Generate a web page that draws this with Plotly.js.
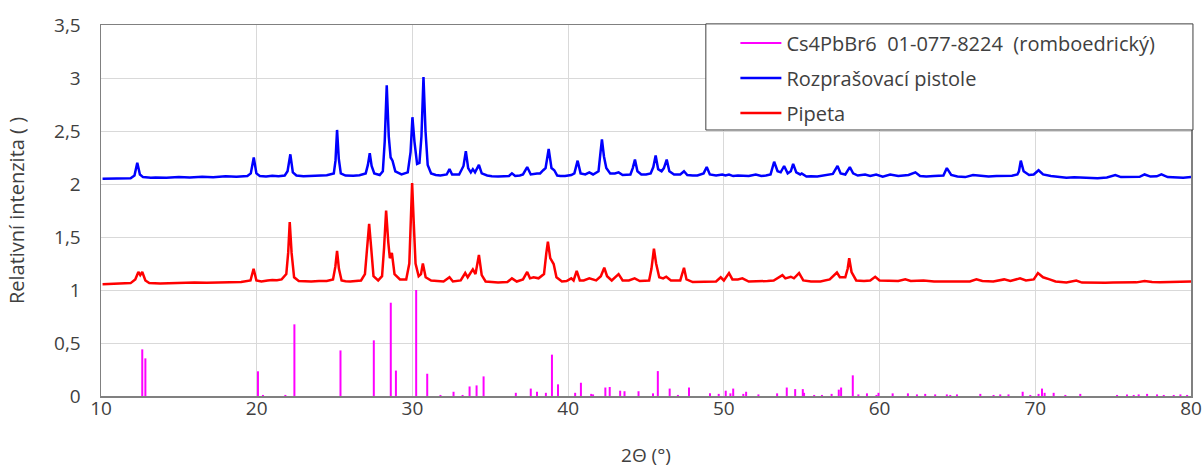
<!DOCTYPE html>
<html>
<head>
<meta charset="utf-8">
<script src="https://cdn.plot.ly/plotly-3.0.1.min.js"></script>
<style>html,body{margin:0;padding:0;background:#fff;}#chart{width:1203px;height:468px;}</style>
</head>
<body>
<div id="chart"></div>
<script>
// ---- data ----
const xTickVals = [10, 20, 30, 40, 50, 60, 70, 80];
const xTickText = ['10', '20', '30', '40', '50', '60', '70', '80'];
const yTickVals = [0, 0.5, 1, 1.5, 2, 2.5, 3, 3.5];
const yTickText = ['0', '0,5', '1', '1,5', '2', '2,5', '3', '3,5'];

const seriesNames = ['Cs4PbBr6\u00a0\u00a001-077-8224\u00a0\u00a0(romboedrický)', 'Rozprašovací pistole', 'Pipeta'];

// reference pattern: stick positions (2θ) and relative intensities
const stickPos = [12.65, 12.85, 20.08, 20.4, 21.84, 22.42, 25.38, 27.52, 28.61, 28.94, 30.24, 30.95, 31.8, 32.64, 33.22, 33.67, 34.12, 34.57,
  36.64, 37.6, 38.0, 38.57, 38.96, 39.35, 40.45, 40.82, 41.48, 41.6, 42.39, 42.67, 43.34, 43.62, 44.52, 45.45, 45.76, 46.52, 47.05, 47.76,
  49.11, 49.67, 50.12, 50.42, 50.6, 51.25, 51.43, 52.22, 53.42, 54.04, 54.58, 55.07, 55.15, 55.8, 56.3, 56.92, 57.38, 57.53, 58.28, 58.64,
  59.19, 59.8, 59.93, 60.84, 61.82, 62.4, 62.93, 63.57, 64.32, 64.54, 64.97, 66.47, 67.32, 67.75, 68.28, 69.19, 69.68, 70.21, 70.43, 70.6,
  71.18, 71.93, 72.89, 75.25, 75.89, 76.32, 76.64, 77.18, 77.82, 78.25, 78.89, 79.32, 79.75];
const stickInt = [0.44, 0.355, 0.233, 0.01, 0.01, 0.676, 0.43, 0.525, 0.88, 0.24, 1.0, 0.21, 0.01, 0.04, 0.01, 0.09, 0.10, 0.185,
  0.03, 0.07, 0.04, 0.03, 0.39, 0.11, 0.03, 0.125, 0.02, 0.015, 0.08, 0.085, 0.05, 0.045, 0.045, 0.025, 0.235, 0.07, 0.01, 0.08,
  0.025, 0.02, 0.05, 0.025, 0.07, 0.02, 0.04, 0.015, 0.025, 0.08, 0.065, 0.065, 0.03, 0.01, 0.01, 0.02, 0.06, 0.08, 0.195, 0.015,
  0.025, 0.01, 0.03, 0.025, 0.025, 0.015, 0.02, 0.015, 0.015, 0.01, 0.015, 0.02, 0.01, 0.015, 0.015, 0.04, 0.01, 0.02, 0.07, 0.03,
  0.03, 0.01, 0.02, 0.01, 0.015, 0.01, 0.015, 0.02, 0.015, 0.01, 0.01, 0.015, 0.01];

// measured pattern "Rozprašovací pistole" (2θ, intensity)
const bluePts = [[10.1,2.05],[10.6,2.052],[11.0,2.048],[11.5,2.055],[11.9,2.055],[12.15,2.08],[12.33,2.20],[12.5,2.09],[12.7,2.065],[13.2,2.058],[13.5,2.062],
  [14.2,2.058],[15.0,2.066],[15.7,2.062],[16.5,2.068],[17.2,2.064],[18.0,2.072],[18.7,2.068],[19.4,2.076],[19.62,2.10],[19.81,2.25],[19.98,2.10],[20.2,2.075],
  [20.6,2.07],[21.0,2.078],[21.4,2.074],[21.8,2.08],[21.98,2.12],[22.16,2.28],[22.32,2.11],[22.55,2.08],[23.0,2.074],[23.5,2.078],[24.0,2.075],[24.5,2.082],
  [24.95,2.10],[25.06,2.22],[25.16,2.51],[25.27,2.24],[25.4,2.10],[25.7,2.08],[26.2,2.078],[26.6,2.083],[27.0,2.10],[27.14,2.18],[27.26,2.29],[27.38,2.17],
  [27.55,2.10],[27.9,2.085],[28.1,2.12],[28.22,2.40],[28.35,2.93],[28.48,2.45],[28.6,2.25],[28.72,2.22],[28.9,2.12],[29.3,2.09],[29.7,2.11],[29.88,2.30],
  [30.0,2.63],[30.13,2.40],[30.3,2.19],[30.45,2.20],[30.58,2.45],[30.71,3.01],[30.84,2.50],[30.98,2.18],[31.2,2.10],[31.5,2.085],[31.8,2.08],[32.2,2.09],
  [32.38,2.14],[32.55,2.09],[33.0,2.09],[33.28,2.17],[33.43,2.31],[33.58,2.15],[33.75,2.11],[33.88,2.14],[34.02,2.11],[34.27,2.18],[34.45,2.10],[34.8,2.08],
  [35.1,2.074],[35.5,2.07],[35.9,2.074],[36.2,2.075],[36.39,2.10],[36.6,2.075],[36.9,2.08],[37.1,2.09],[37.37,2.16],[37.6,2.09],[38.0,2.10],[38.2,2.10],
  [38.4,2.13],[38.55,2.15],[38.75,2.33],[38.93,2.15],[39.11,2.13],[39.3,2.08],[39.5,2.075],[39.8,2.075],[40.2,2.085],[40.4,2.10],[40.61,2.22],[40.8,2.10],
  [41.1,2.09],[41.36,2.11],[41.6,2.09],[41.95,2.12],[42.08,2.30],[42.17,2.42],[42.3,2.26],[42.45,2.15],[42.7,2.10],[43.0,2.10],[43.24,2.11],[43.5,2.085],
  [44.0,2.09],[44.15,2.15],[44.29,2.23],[44.45,2.12],[44.7,2.09],[45.0,2.09],[45.3,2.10],[45.47,2.16],[45.62,2.27],[45.78,2.14],[46.0,2.12],[46.15,2.15],
  [46.33,2.23],[46.5,2.12],[46.8,2.09],[47.2,2.09],[47.44,2.12],[47.65,2.085],[48.0,2.08],[48.3,2.08],[48.7,2.10],[48.9,2.16],[49.1,2.09],[49.5,2.08],
  [49.9,2.09],[50.1,2.08],[50.33,2.09],[50.6,2.075],[50.9,2.08],[51.2,2.08],[51.6,2.075],[52.05,2.09],[52.4,2.075],[52.7,2.08],[53.0,2.09],[53.23,2.21],
  [53.45,2.12],[53.65,2.11],[53.87,2.17],[54.1,2.10],[54.3,2.12],[54.45,2.19],[54.65,2.11],[54.9,2.09],[55.0,2.10],[55.3,2.07],[55.6,2.074],[56.0,2.07],
  [56.5,2.08],[56.76,2.09],[57.0,2.095],[57.3,2.17],[57.5,2.10],[57.8,2.09],[58.09,2.16],[58.3,2.10],[58.6,2.08],[59.07,2.09],[59.4,2.075],[59.78,2.09],
  [60.2,2.07],[60.68,2.09],[61.2,2.075],[61.86,2.085],[62.3,2.11],[62.6,2.075],[63.0,2.07],[63.5,2.075],[64.1,2.08],[64.32,2.15],[64.6,2.085],[65.0,2.07],
  [65.5,2.065],[66.0,2.085],[66.5,2.075],[67.0,2.07],[67.5,2.075],[68.0,2.08],[68.5,2.078],[68.85,2.09],[68.95,2.12],[69.07,2.22],[69.25,2.12],[69.6,2.085],
  [69.9,2.09],[70.21,2.13],[70.5,2.09],[71.0,2.075],[71.5,2.068],[72.0,2.06],[72.5,2.064],[73.0,2.06],[73.5,2.058],[74.0,2.055],[74.6,2.062],[75.14,2.085],
  [75.5,2.065],[75.9,2.068],[76.3,2.07],[76.7,2.068],[77.02,2.09],[77.4,2.07],[77.8,2.072],[78.1,2.09],[78.5,2.065],[79.0,2.062],[79.5,2.06],[80.0,2.065]];

// measured pattern "Pipeta" (2θ, intensity)
const redPts = [[10.1,1.055],[10.6,1.058],[11.0,1.06],[11.5,1.058],[11.9,1.065],[12.2,1.10],[12.4,1.17],[12.52,1.14],[12.65,1.17],[12.85,1.09],[13.1,1.065],
  [13.8,1.062],[14.5,1.066],[15.2,1.064],[16.0,1.07],[16.8,1.068],[17.5,1.072],[18.3,1.07],[19.0,1.075],[19.6,1.09],[19.8,1.20],[19.98,1.09],[20.3,1.08],
  [20.7,1.09],[21.0,1.095],[21.3,1.092],[21.6,1.10],[21.9,1.15],[22.02,1.35],[22.12,1.64],[22.24,1.35],[22.4,1.12],[22.7,1.085],[23.1,1.082],[23.5,1.08],
  [24.0,1.086],[24.5,1.085],[24.9,1.10],[25.05,1.22],[25.16,1.37],[25.28,1.20],[25.45,1.09],[25.7,1.082],[26.0,1.08],[26.4,1.085],[26.7,1.09],[26.95,1.15],
  [27.1,1.40],[27.22,1.625],[27.35,1.40],[27.5,1.13],[27.8,1.09],[28.05,1.13],[28.18,1.40],[28.31,1.75],[28.45,1.45],[28.55,1.30],[28.68,1.35],[28.85,1.15],
  [29.2,1.10],[29.6,1.10],[29.8,1.25],[29.9,1.60],[29.98,2.01],[30.08,1.65],[30.2,1.25],[30.4,1.13],[30.55,1.15],[30.67,1.25],[30.85,1.12],[31.2,1.09],
  [31.6,1.085],[32.0,1.08],[32.38,1.12],[32.6,1.08],[33.1,1.09],[33.39,1.16],[33.55,1.12],[33.88,1.195],[34.05,1.15],[34.27,1.33],[34.45,1.14],[34.7,1.08],
  [35.1,1.075],[35.5,1.07],[35.8,1.074],[36.1,1.075],[36.39,1.11],[36.7,1.08],[37.1,1.10],[37.37,1.17],[37.55,1.11],[37.78,1.12],[38.1,1.11],[38.45,1.15],
  [38.6,1.35],[38.70,1.455],[38.85,1.30],[39.07,1.245],[39.25,1.12],[39.6,1.08],[39.9,1.085],[40.2,1.11],[40.35,1.09],[40.55,1.18],[40.75,1.09],[41.0,1.09],
  [41.36,1.11],[41.8,1.09],[42.1,1.13],[42.32,1.21],[42.5,1.13],[42.8,1.09],[43.24,1.15],[43.5,1.09],[43.9,1.09],[44.27,1.11],[44.6,1.085],[45.2,1.09],
  [45.35,1.20],[45.51,1.39],[45.65,1.25],[45.85,1.12],[46.1,1.11],[46.3,1.125],[46.6,1.09],[47.2,1.09],[47.44,1.21],[47.6,1.10],[48.0,1.075],[48.5,1.075],
  [49.0,1.08],[49.5,1.08],[49.8,1.12],[50.0,1.09],[50.33,1.16],[50.55,1.10],[50.9,1.10],[51.19,1.11],[51.6,1.08],[52.1,1.08],[52.8,1.085],[53.2,1.09],
  [53.45,1.11],[53.76,1.14],[53.95,1.11],[54.3,1.125],[54.5,1.11],[54.83,1.16],[55.1,1.09],[55.6,1.08],[56.2,1.08],[56.8,1.10],[57.26,1.165],[57.45,1.12],
  [57.8,1.12],[57.95,1.20],[58.05,1.30],[58.2,1.17],[58.5,1.09],[59.0,1.085],[59.4,1.09],[59.72,1.125],[60.0,1.09],[60.7,1.09],[61.2,1.085],[61.65,1.10],
  [62.0,1.085],[62.82,1.09],[63.5,1.08],[64.3,1.08],[65.0,1.08],[65.8,1.08],[66.22,1.10],[66.6,1.085],[67.3,1.08],[68.0,1.10],[68.4,1.085],[69.02,1.11],
  [69.4,1.09],[69.9,1.10],[70.17,1.16],[70.5,1.12],[70.92,1.10],[71.3,1.08],[72.0,1.07],[72.63,1.09],[73.0,1.07],[73.5,1.068],[74.0,1.065],[74.5,1.068],
  [75.0,1.07],[75.5,1.072],[76.0,1.075],[76.5,1.072],[77.02,1.085],[77.5,1.075],[78.0,1.072],[78.5,1.075],[79.0,1.072],[79.5,1.075],[80.0,1.08]];

// ---- build traces ----
const stickX = [], stickY = [];
stickPos.forEach((p, i) => { stickX.push(p, p, null); stickY.push(0, stickInt[i], null); });

const txtColor = '#404040';
const fontFam = 'Open Sans, sans-serif';

const traces = [
  {x: stickX, y: stickY, type: 'scatter', mode: 'lines', name: seriesNames[0], legendgroup: 'a',
   line: {color: '#ff00ff', width: 2}, connectgaps: false, hoverinfo: 'skip'},
  {x: bluePts.map(p => p[0]), y: bluePts.map(p => p[1]), type: 'scatter', mode: 'lines', name: seriesNames[1], legendgroup: 'b',
   line: {color: '#0000ff', width: 2.5}},
  {x: redPts.map(p => p[0]), y: redPts.map(p => p[1]), type: 'scatter', mode: 'lines', name: seriesNames[2], legendgroup: 'c',
   line: {color: '#ff0000', width: 2.5}}
];

const axisCommon = {
  showgrid: true, gridcolor: '#d9d9d9', gridwidth: 1,
  showline: true, linecolor: '#808080', linewidth: 1.5, mirror: true,
  ticks: '', zeroline: false,
  tickfont: {family: fontFam, size: 19, color: txtColor}
};

const layout = {
  width: 1203, height: 468,
  margin: {l: 101, r: 12, t: 25, b: 72, autoexpand: false},
  paper_bgcolor: '#ffffff', plot_bgcolor: '#ffffff',
  separators: ', ',
  showlegend: true,
  xaxis: Object.assign({}, axisCommon, {
    range: [10, 80], tickmode: 'array', tickvals: xTickVals, ticktext: xTickText,
    ticklabelstandoff: -5,
    title: {text: '2\u0398 (°)', font: {family: fontFam, size: 19, color: txtColor}, standoff: 32}
  }),
  yaxis: Object.assign({}, axisCommon, {
    range: [0, 3.5], tickmode: 'array', tickvals: yTickVals, ticktext: yTickText,
    ticklabelstandoff: 15,
    title: {text: 'Relativní intenzita ( )', font: {family: fontFam, size: 20, color: txtColor}, standoff: 24}
  }),
  legend: {
    x: 0.582, xanchor: 'left', y: 1.004, yanchor: 'top',
    bgcolor: 'rgba(0,0,0,0)', borderwidth: 0,
    font: {family: fontFam, size: 20, color: txtColor},
    traceorder: 'grouped', tracegroupgap: 6, itemwidth: 41
  },
  shapes: [{
    type: 'rect', xref: 'paper', yref: 'paper', layer: 'above',
    x0: 0.5549, x1: 1.0018, y0: 0.717, y1: 1.003,
    line: {color: '#404040', width: 1}, fillcolor: '#ffffff'
  }]
};

Plotly.newPlot('chart', traces, layout, {staticPlot: true, displayModeBar: false});
</script>
</body>
</html>
